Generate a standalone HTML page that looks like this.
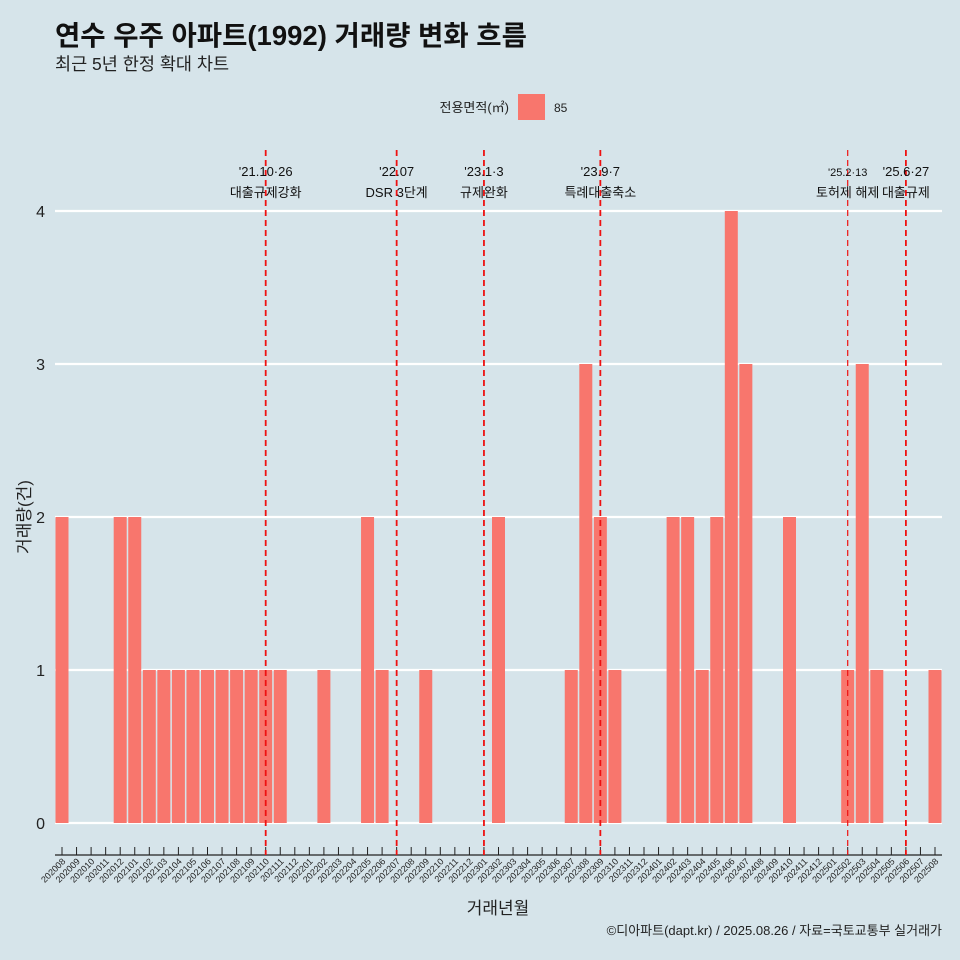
<!DOCTYPE html>
<html><head><meta charset="utf-8"><style>
body{margin:0;background:#d6e4ea;}
svg{display:block;font-family:"Liberation Sans","Noto Sans CJK KR",sans-serif;}
</style></head><body>
<svg id="c" width="960" height="960">
<rect width="960" height="960" fill="#d6e4ea"/>
<text x="55" y="45" font-size="27.5" font-weight="bold" fill="#111">연수 우주 아파트(1992) 거래량 변화 흐름</text>
<text x="55" y="70" font-size="17.5" fill="#222">최근 5년 한정 확대 차트</text>
<text x="509" y="112" font-size="13" text-anchor="end" fill="#222">전용면적(㎡)</text>
<rect x="518" y="94" width="27" height="26" fill="#f8766d"/>
<text x="554" y="112" font-size="12" fill="#222">85</text>
<g id="plot"></g>
<text x="30" y="517" font-size="17" fill="#222" text-anchor="middle" transform="rotate(-90 30 517)">거래량(건)</text>
<text x="498" y="914" font-size="17" fill="#222" text-anchor="middle">거래년월</text>
<text x="942" y="935" font-size="13" fill="#222" text-anchor="end">©디아파트(dapt.kr) / 2025.08.26 / 자료=국토교통부 실거래가</text>
</svg>
<script>
const months=[];for(let y=2020,m=8;y*100+m<=202508;){months.push(''+y+(m<10?'0':'')+m);m++;if(m>12){m=1;y++;}}
const valueMonths=["202008","202012","202101","202102","202103","202104","202105","202106","202107","202108","202109","202110","202111","202202","202205","202206","202209","202302","202307","202308","202309","202310","202402","202403","202404","202405","202406","202407","202410","202502","202503","202504","202508"];
const values=[2,2,2,1,1,1,1,1,1,1,1,1,1,1,2,1,1,2,1,3,2,1,2,2,1,2,4,3,2,1,3,1,1];
const yTicks=[0,1,2,3,4];
const eventMonths=["202110","202207","202301","202309","202502","202506"];
const eventLine1=["'21.10·26","'22.07","'23.1·3","'23.9·7","'25.2·13","'25.6·27"];
const eventLine2=["대출규제강화","DSR 3단계","규제완화","특례대출축소","토허제 해제","대출규제"];
const NS='http://www.w3.org/2000/svg';
const g=document.getElementById('plot');
const x0=62,step=(935-62)/60,yz=823,yu=153,bw=13;
const X=m=>x0+months.indexOf(m)*step;
const Y=v=>yz-v*yu;
function mk(t,a){const e=document.createElementNS(NS,t);for(const k in a)e.setAttribute(k,a[k]);g.appendChild(e);return e;}
yTicks.forEach(v=>{
 const l=mk('line',{x1:55,x2:942,y1:Y(v),y2:Y(v),stroke:'#fff','stroke-width':2.2});
 
 
 const t=mk('text',{x:45,y:Y(v)+6,'font-size':16,'text-anchor':'end',fill:'#222'});t.textContent=v;
 
 
});
valueMonths.forEach((m,i)=>{
 const r=mk('rect',{x:X(m)-bw/2,y:Y(values[i]),width:bw,height:values[i]*yu,fill:'#f8766d'});
 
 
});
const ax=mk('line',{x1:55,x2:942,y1:855,y2:855,stroke:'#222','stroke-width':1.2});


months.forEach(m=>{
 const x=X(m);
 const tk=mk('line',{x1:x,x2:x,y1:847,y2:855,stroke:'#222','stroke-width':1});
 
 
 const t=mk('text',{x:x+4,y:862,'font-size':9,'text-anchor':'end',fill:'#222',transform:`rotate(-45 ${x+4} 862)`});t.textContent=m;
 
 
});
eventMonths.forEach((m,i)=>{
 const x=X(m);
 const l=mk('line',{x1:x,x2:x,y1:150,y2:855,stroke:'#ee1111','stroke-width':i==4?1.2:1.8,'stroke-dasharray':'6,4'});
 
 
 const t1=mk('text',{x:x,y:176,'font-size':i==4?11:13,'text-anchor':'middle',fill:'#111'});t1.textContent=eventLine1[i];
 
 
 const t2=mk('text',{x:x,y:197,'font-size':13,'text-anchor':'middle',fill:'#111'});t2.textContent=eventLine2[i];
 
 
});
</script>
</body></html>
